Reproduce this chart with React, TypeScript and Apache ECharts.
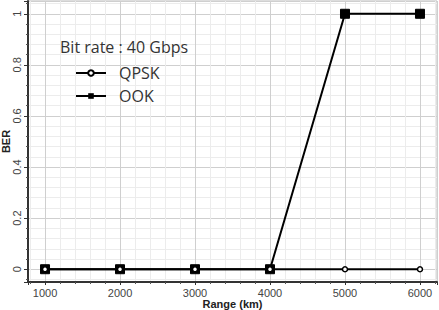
import React, { useEffect, useRef } from "react";
import * as echarts from "echarts";

const ranges = [1000, 2000, 3000, 4000, 5000, 6000];
const qpskBer = [0, 0, 0, 0, 0, 0];
const ookBer = [0, 0, 0, 0, 1, 1];
const legendTitle = "Bit rate : 40 Gbps";
const seriesNames = ["QPSK", "OOK"];

export default function App() {
  const ref = useRef<HTMLDivElement>(null);
  useEffect(() => {
    if (!ref.current) return;
    const chart = echarts.init(ref.current, null, { renderer: "svg" });
    const font = "'Liberation Sans', Arial, sans-serif";
    chart.setOption({
      animation: false,
      backgroundColor: "#ffffff",
      title: {
        text: legendTitle,
        left: 55,
        top: 34,
        textStyle: { fontSize: 16, fontWeight: "normal", color: "#333", fontFamily: "'Open Sans', sans-serif" },
      },
      legend: {
        orient: "vertical",
        left: 70,
        top: 60,
        itemWidth: 30,
        itemHeight: 7,
        itemGap: 7,
        data: seriesNames,
        textStyle: { fontSize: 16, color: "#333", fontFamily: "'Open Sans', sans-serif", padding: [0, 0, 0, 8] },
      },
      grid: {
        left: 28,
        right: 2,
        top: 1,
        bottom: 28,
        outerBoundsMode: "none",
        containLabel: false,
        show: true,
        borderColor: "#bbbbbb",
        borderWidth: 1,
      },
      xAxis: {
        type: "value",
        min: 773,
        max: 6227,
        splitNumber: 5,
        name: "Range (km)",
        nameLocation: "middle",
        nameGap: 16,
        nameMoveOverlap: false,
        nameTextStyle: { fontSize: 11, fontWeight: "bold", color: "#222", fontFamily: font },
        axisLine: { show: true, onZero: false, lineStyle: { color: "#333", width: 2 } },
        axisTick: { show: true, length: 3, lineStyle: { color: "#333" } },
        minorTick: { show: true, splitNumber: 5, length: 2, lineStyle: { color: "#555" } },
        axisLabel: {
          showMinLabel: false,
          showMaxLabel: false,
          fontSize: 11,
          color: "#444",
          fontFamily: font,
          margin: 5,
          formatter: (v: number) => String(Math.round(v)),
        },
        splitLine: { show: true, lineStyle: { color: "#cfcfcf", width: 1 } },
        minorSplitLine: { show: true, lineStyle: { color: "#ececec", width: 1 } },
      },
      yAxis: {
        type: "value",
        min: -0.05,
        max: 1.05,
        splitNumber: 5,
        name: "BER",
        nameLocation: "middle",
        nameGap: 17,
        nameMoveOverlap: false,
        nameTextStyle: { fontSize: 11, fontWeight: "bold", color: "#222", fontFamily: font },
        axisLine: { show: true, onZero: false, lineStyle: { color: "#333", width: 2 } },
        axisTick: { show: true, length: 4, lineStyle: { color: "#333" } },
        minorTick: { show: true, splitNumber: 5, length: 2, lineStyle: { color: "#555" } },
        axisLabel: { showMinLabel: false, showMaxLabel: false, rotate: 90, fontSize: 11, color: "#444", fontFamily: font, margin: 6 },
        splitLine: { show: true, lineStyle: { color: "#cfcfcf", width: 1 } },
        minorSplitLine: { show: true, lineStyle: { color: "#ececec", width: 1 } },
      },
      series: [
        {
          name: seriesNames[1],
          type: "line",
          z: 2,
          data: ranges.map((r, i) => [r, ookBer[i]]),
          symbol: "rect",
          symbolSize: 9,
          showAllSymbol: true,
          itemStyle: { color: "#000", borderColor: "#000" },
          lineStyle: { color: "#000", width: 2 },
        },
        {
          name: seriesNames[0],
          type: "line",
          z: 3,
          data: ranges.map((r, i) => [r, qpskBer[i]]),
          symbol: "circle",
          symbolSize: 5,
          showAllSymbol: true,
          itemStyle: { color: "#fff", borderColor: "#000", borderWidth: 1.5 },
          lineStyle: { color: "#000", width: 2 },
        },
      ],
    });
    return () => chart.dispose();
  }, []);
  return <div ref={ref} style={{ width: 439, height: 310, position: "fixed", left: 0, top: 0 }} />;
}
